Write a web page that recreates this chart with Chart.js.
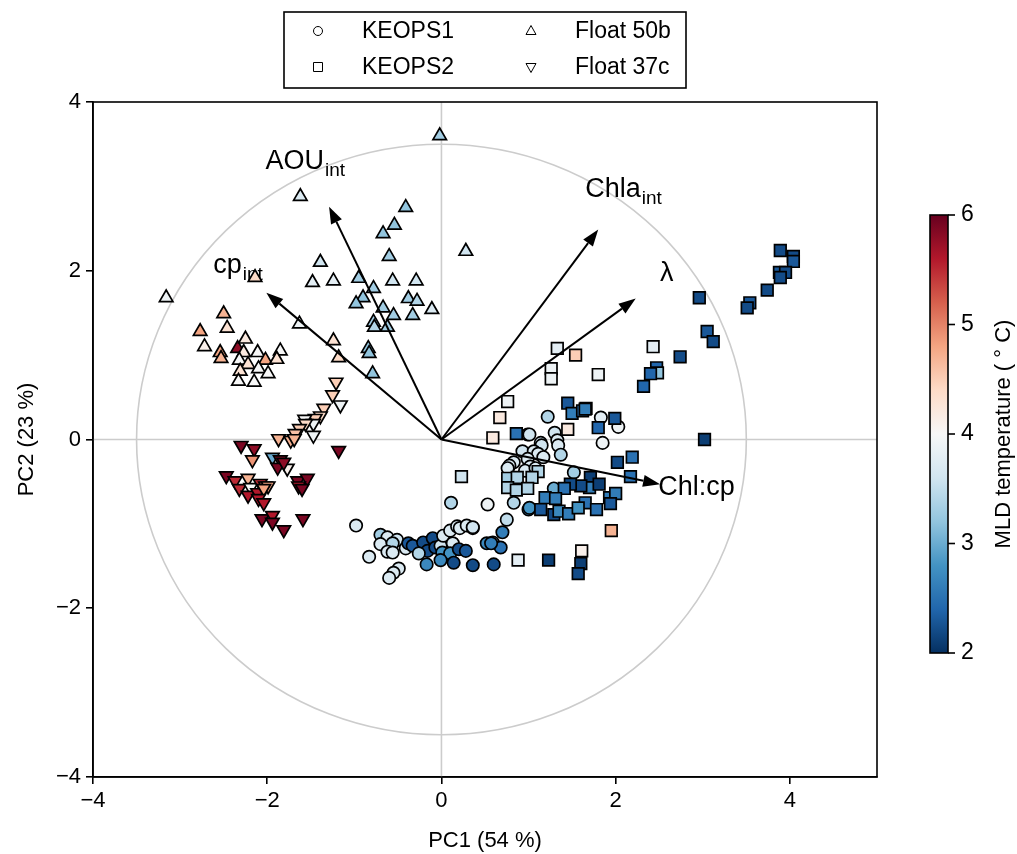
<!DOCTYPE html>
<html>
<head>
<meta charset="utf-8">
<script src="https://cdn.jsdelivr.net/npm/chart.js@4.4.0/dist/chart.umd.min.js"></script>
<style>
  html, body { margin: 0; padding: 0; background: #fff; }
  canvas { display: block; }
</style>
</head>
<body>
<canvas id="chart" width="1017" height="854"></canvas>
<script>
// PCA scores (PC1, PC2) and MLD temperature per station
const k1X = [-0.98,-0.70,-0.62,-0.51,-0.70,-0.56,-0.62,-0.56,-0.41,-0.83,-0.49,-0.55,-0.60,-0.38,-0.33,-0.21,-0.10,-0.16,-0.26,-0.17,-0.07,-0.01,0.02,0.10,0.18,0.21,0.29,0.36,0.13,0.01,0.10,-0.01,0.14,0.20,0.28,0.36,0.60,0.52,0.59,0.68,0.70,0.75,1.00,0.83,0.53,0.11,1.22,1.83,2.03,0.99,1.01,1.30,1.33,1.85,1.14,1.15,1.34,1.37,0.93,1.06,1.11,1.17,0.99,0.83,0.78,0.76,1.02,0.96,1.08,1.52,1.29,0.83,1.01,0.36,0.57];
const k1Y = [-1.02,-1.13,-1.16,-1.19,-1.24,-1.23,-1.33,-1.34,-1.29,-1.39,-1.53,-1.58,-1.64,-1.23,-1.26,-1.22,-1.17,-1.32,-1.35,-1.48,-1.28,-1.26,-1.14,-1.08,-1.03,-1.05,-1.02,-1.05,-1.23,-1.34,-1.35,-1.43,-1.46,-1.30,-1.32,-1.49,-1.48,-1.23,-1.22,-1.28,-1.10,-0.95,-0.83,-0.75,-0.77,-0.75,0.27,0.26,0.15,0.06,0.06,0.08,-0.01,-0.04,-0.04,-0.07,-0.07,-0.18,-0.14,-0.14,-0.17,-0.21,-0.23,-0.27,-0.31,-0.34,-0.32,-0.37,-0.34,-0.39,-0.58,-0.58,-0.81,-1.04,-1.23];
const k1T = [3.7,3.3,3.7,3.6,3.7,3.4,3.7,3.7,3.7,3.7,3.7,3.7,3.7,2.3,2.3,2.2,2.2,2.2,3.4,2.7,2.2,3.6,3.7,3.7,3.7,3.7,3.7,3.7,3.7,2.8,2.8,2.7,2.2,2.2,2.3,2.2,2.2,2.7,3.3,2.5,2.6,3.5,2.6,3.4,3.9,3.4,3.4,3.8,3.9,3.5,3.6,3.6,3.7,3.9,3.6,3.6,3.7,3.4,3.6,3.7,3.7,3.7,3.7,3.7,3.7,3.7,3.7,3.7,3.7,3.3,3.0,3.6,2.8,3.6,2.6];

const k2X = [2.32,0.76,0.67,0.59,1.45,1.50,1.62,1.66,1.99,1.80,1.45,0.86,2.02,2.19,2.17,1.11,0.76,0.87,1.04,0.76,0.86,0.99,1.71,1.70,1.60,1.48,1.81,1.41,1.19,1.31,1.65,1.93,2.00,1.94,1.14,1.29,1.35,1.46,1.57,1.78,1.95,1.61,0.88,1.23,1.60,1.57,3.89,4.04,4.04,3.88,3.95,3.89,3.74,3.54,3.51,2.96,3.05,3.12,2.43,2.74,2.47,2.48,2.40,1.80,1.65,3.02,1.33,1.54,1.26,1.26,0.23];
const k2Y = [0.63,0.45,0.26,0.02,0.43,0.31,0.34,0.37,0.25,0.14,0.12,0.07,-0.27,-0.21,-0.44,-0.38,-0.46,-0.45,-0.45,-0.57,-0.60,-0.58,-0.45,-0.57,-0.55,-0.53,-0.53,-0.58,-0.69,-0.70,-0.75,-0.69,-0.64,-0.76,-0.83,-0.89,-0.85,-0.88,-0.81,-0.83,-1.08,-1.32,-1.43,-1.43,-1.47,-1.59,2.24,2.17,2.11,1.98,1.98,1.92,1.77,1.62,1.56,1.68,1.28,1.16,1.10,0.98,0.85,0.79,0.78,0.77,0.36,0.00,1.08,1.00,0.84,0.72,-0.44];
const k2T = [2.4,3.9,4.2,4.2,2.3,2.6,2.5,2.5,2.3,2.4,4.2,2.5,2.2,2.5,2.5,3.4,3.3,3.4,3.4,3.4,3.4,3.4,2.1,2.6,2.2,2.2,2.1,2.5,2.6,2.6,2.5,2.6,2.6,2.3,2.3,2.2,2.7,2.6,2.8,2.5,4.7,4.1,3.8,2.1,2.1,2.2,2.2,2.2,2.3,2.3,2.2,2.2,2.2,2.3,2.2,2.2,2.3,2.2,3.8,2.2,2.4,3.2,2.4,3.9,2.6,2.1,3.8,4.5,3.9,3.9,3.6];

const f50X = [-1.62,-0.41,-0.54,-0.67,-0.60,-1.39,-1.48,-1.24,-0.95,-0.56,-0.29,-0.78,-0.90,-0.98,-0.67,-0.38,-0.28,-0.11,-0.33,-0.55,-0.78,-0.62,-0.77,-0.84,-0.83,-0.79,-1.63,-1.24,-1.18,-3.16,-2.14,-0.02,0.28,-2.50,-2.77,-2.46,-2.72,-2.54,-2.53,-2.34,-2.25,-2.27,-2.32,-2.11,-2.22,-2.02,-1.85,-1.89,-2.10,-1.99,-2.31,-2.33,-2.15];
const f50Y = [2.88,2.75,2.54,2.44,2.17,2.10,1.86,1.88,1.91,1.88,1.88,1.79,1.68,1.61,1.56,1.67,1.64,1.54,1.47,1.47,1.39,1.33,1.33,1.08,1.02,0.78,1.37,1.17,0.97,1.68,1.92,3.60,2.23,1.49,1.28,1.32,1.10,1.03,0.96,1.08,1.19,1.03,0.94,1.03,0.89,0.94,1.05,0.95,0.84,0.78,0.81,0.69,0.68];
const f50T = [3.7,3.2,3.2,3.2,3.3,3.6,3.8,3.8,3.3,3.6,3.6,3.3,3.2,3.2,3.3,3.3,3.4,3.7,3.3,3.3,3.3,3.3,3.4,3.2,3.2,3.2,3.9,4.3,4.4,3.9,4.4,3.3,3.6,4.7,4.8,4.3,4.1,4.8,4.7,5.8,4.2,4.2,4.0,4.0,4.3,4.8,4.0,4.3,4.0,4.0,4.3,4.0,4.0];

const f37X = [-1.21,-1.25,-1.16,-1.35,-1.39,-1.45,-1.57,-1.47,-1.56,-1.63,-1.68,-1.47,-1.87,-1.73,-1.69,-2.30,-2.15,-1.18,-2.17,-1.94,-1.85,-1.88,-1.77,-1.81,-2.47,-2.37,-2.22,-2.32,-2.19,-2.22,-2.08,-2.02,-1.99,-2.11,-2.04,-2.10,-2.04,-1.65,-1.54,-1.64,-1.60,-2.06,-1.94,-1.94,-1.81,-1.59];
const f37Y = [0.68,0.53,0.41,0.37,0.28,0.25,0.24,0.19,0.19,0.13,0.07,0.05,0.01,-0.01,0.01,-0.07,-0.11,-0.13,-0.24,-0.21,-0.24,-0.33,-0.34,-0.27,-0.43,-0.49,-0.46,-0.58,-0.57,-0.66,-0.52,-0.55,-0.55,-0.63,-0.58,-0.70,-0.75,-0.49,-0.46,-0.55,-0.58,-0.94,-0.90,-0.98,-1.07,-0.94];
const f37T = [4.5,4.5,3.9,4.5,4.4,4.5,4.0,3.9,4.4,4.5,4.6,3.9,4.7,4.7,4.7,5.9,5.8,5.9,4.9,3.0,5.8,5.9,4.1,5.8,5.9,5.5,4.7,5.5,4.0,5.6,5.5,4.8,4.8,5.6,4.8,5.6,5.6,5.9,5.9,5.6,5.9,5.9,5.6,5.9,5.9,5.9];

// loading vectors
const loadNames = ['AOU', 'cp', 'Chla', 'λ', 'Chl:cp'];
const loadSubs = ['int', 'int', 'int', '', ''];
const loadX = [-1.29, -2.01, 1.80, 2.23, 2.51];
const loadY = [2.76, 1.74, 2.49, 1.67, -0.53];
const labelX = [-2.02, -2.62, 1.65, 2.51, 2.49];
const labelY = [3.21, 1.97, 2.88, 1.88, -0.66];

const circleRadius = 3.5;
const xTicks = [-4, -2, 0, 2, 4];
const yTicks = [-4, -2, 0, 2, 4];
const cbarTicks = [2, 3, 4, 5, 6];
const tMin = 2, tMax = 6;

const FONT = "'Liberation Sans', Arial, sans-serif";

// RdBu_r
const rdbuR = ['#053061','#2166ac','#4393c3','#92c5de','#d1e5f0','#f7f7f7','#fddbc7','#f4a582','#d6604d','#b2182b','#67001f'];

function hexToRgb(h) {
  return [parseInt(h.slice(1,3),16), parseInt(h.slice(3,5),16), parseInt(h.slice(5,7),16)];
}

function tempColor(t) {
  let f = (t - tMin) / (tMax - tMin) * (rdbuR.length - 1);
  f = Math.max(0, Math.min(rdbuR.length - 1, f));
  const i = Math.min(Math.floor(f), rdbuR.length - 2);
  const w = f - i;
  const a = hexToRgb(rdbuR[i]), b = hexToRgb(rdbuR[i + 1]);
  const c = a.map((v, k) => Math.round(v + (b[k] - v) * w));
  return 'rgb(' + c.join(',') + ')';
}

function makeSet(label, xs, ys, ts, style, radius, rotation, order) {
  return {
    label: label,
    data: xs.map((v, i) => ({ x: v, y: ys[i] })),
    backgroundColor: ts.map(tempColor),
    borderColor: '#000',
    borderWidth: 1.7,
    pointStyle: style,
    pointRadius: radius,
    rotation: rotation,
    order: order
  };
}

const minus = v => String(v).replace('-', '\u2212');

const biplot = {
  id: 'biplot',
  beforeDatasetsDraw(chart) {
    const { ctx, chartArea: a, scales: { x, y } } = chart;
    const cx = x.getPixelForValue(0), cy = y.getPixelForValue(0);
    ctx.save();
    ctx.strokeStyle = '#cccccc';
    ctx.lineWidth = 1.6;
    ctx.beginPath();
    ctx.moveTo(cx, a.top); ctx.lineTo(cx, a.bottom);
    ctx.moveTo(a.left, cy); ctx.lineTo(a.right, cy);
    ctx.stroke();
    const rx = x.getPixelForValue(circleRadius) - cx;
    const ry = cy - y.getPixelForValue(circleRadius);
    ctx.beginPath();
    ctx.ellipse(cx, cy, rx, ry, 0, 0, Math.PI * 2);
    ctx.stroke();

    // variable labels
    ctx.fillStyle = '#000';
    ctx.textBaseline = 'alphabetic';
    ctx.textAlign = 'left';
    loadNames.forEach((name, i) => {
      const px = x.getPixelForValue(labelX[i]);
      const py = y.getPixelForValue(labelY[i]);
      ctx.font = '27px ' + FONT;
      ctx.fillText(name, px, py);
      if (loadSubs[i]) {
        const w = ctx.measureText(name).width;
        ctx.font = '19px ' + FONT;
        ctx.fillText(loadSubs[i], px + w + 1, py + 7);
      }
    });
    ctx.restore();
  },
  afterDatasetsDraw(chart) {
    const { ctx, scales: { x, y } } = chart;
    const ox = x.getPixelForValue(0), oy = y.getPixelForValue(0);
    ctx.save();
    ctx.strokeStyle = '#000';
    ctx.fillStyle = '#000';
    ctx.lineWidth = 2;
    loadX.forEach((lx, i) => {
      const tx = x.getPixelForValue(lx), ty = y.getPixelForValue(loadY[i]);
      const ang = Math.atan2(ty - oy, tx - ox);
      const head = 17, half = 6;
      const bx = tx - head * Math.cos(ang), by = ty - head * Math.sin(ang);
      ctx.beginPath();
      ctx.moveTo(ox, oy);
      ctx.lineTo(bx, by);
      ctx.stroke();
      ctx.beginPath();
      ctx.moveTo(tx, ty);
      ctx.lineTo(bx - half * Math.sin(ang), by + half * Math.cos(ang));
      ctx.lineTo(bx + half * Math.sin(ang), by - half * Math.cos(ang));
      ctx.closePath();
      ctx.fill();
    });
    ctx.restore();
  },
  afterDraw(chart) {
    const { ctx, chartArea: a } = chart;
    ctx.save();
    // plot frame
    ctx.strokeStyle = '#000';
    ctx.lineWidth = 1.6;
    ctx.strokeRect(a.left, a.top, a.right - a.left, a.bottom - a.top);

    // legend
    const lg = { left: 284, top: 12, w: 402, h: 76 };
    ctx.fillStyle = '#fff';
    ctx.fillRect(lg.left, lg.top, lg.w, lg.h);
    ctx.strokeRect(lg.left, lg.top, lg.w, lg.h);
    const entries = [
      { name: 'KEOPS1', shape: 'circle', mx: 318, tx: 362, my: 31 },
      { name: 'KEOPS2', shape: 'square', mx: 318, tx: 362, my: 67 },
      { name: 'Float 50b', shape: 'up', mx: 531, tx: 575, my: 31 },
      { name: 'Float 37c', shape: 'down', mx: 531, tx: 575, my: 67 }
    ];
    ctx.lineWidth = 1;
    entries.forEach(e => {
      ctx.beginPath();
      if (e.shape === 'circle') {
        ctx.arc(e.mx, e.my, 4.5, 0, Math.PI * 2);
      } else if (e.shape === 'square') {
        ctx.rect(e.mx - 4.5, e.my - 4.5, 9, 9);
      } else if (e.shape === 'up') {
        ctx.moveTo(e.mx, e.my - 5.5);
        ctx.lineTo(e.mx + 5, e.my + 3.5);
        ctx.lineTo(e.mx - 5, e.my + 3.5);
        ctx.closePath();
      } else {
        ctx.moveTo(e.mx, e.my + 5.5);
        ctx.lineTo(e.mx + 5, e.my - 3.5);
        ctx.lineTo(e.mx - 5, e.my - 3.5);
        ctx.closePath();
      }
      ctx.stroke();
      ctx.fillStyle = '#000';
      ctx.font = '23px ' + FONT;
      ctx.textAlign = 'left';
      ctx.textBaseline = 'middle';
      ctx.fillText(e.name, e.tx, e.my + 1);
    });

    // colorbar
    const cb = { left: 930, top: 215, w: 18, bottom: 653 };
    const grad = ctx.createLinearGradient(0, cb.bottom, 0, cb.top);
    rdbuR.forEach((c, i) => grad.addColorStop(i / (rdbuR.length - 1), c));
    ctx.fillStyle = grad;
    ctx.fillRect(cb.left, cb.top, cb.w, cb.bottom - cb.top);
    ctx.lineWidth = 1.6;
    ctx.strokeStyle = '#000';
    ctx.strokeRect(cb.left, cb.top, cb.w, cb.bottom - cb.top);
    ctx.fillStyle = '#000';
    ctx.font = '23px ' + FONT;
    ctx.textAlign = 'left';
    ctx.textBaseline = 'middle';
    cbarTicks.forEach(v => {
      const py = cb.bottom - (v - tMin) / (tMax - tMin) * (cb.bottom - cb.top);
      ctx.beginPath();
      ctx.moveTo(cb.left + cb.w, py);
      ctx.lineTo(cb.left + cb.w + 7, py);
      ctx.stroke();
      ctx.fillText(String(v), cb.left + cb.w + 13, py);
    });
    ctx.translate(1004, (cb.top + cb.bottom) / 2);
    ctx.rotate(-Math.PI / 2);
    ctx.textAlign = 'center';
    ctx.font = '22px ' + FONT;
    ctx.fillText('MLD temperature ( \u00b0 C)', 0, 0);
    ctx.restore();
  }
};

new Chart(document.getElementById('chart'), {
  type: 'scatter',
  data: {
    datasets: [
      makeSet('KEOPS1', k1X, k1Y, k1T, 'circle', 6.2, 0, 4),
      makeSet('KEOPS2', k2X, k2Y, k2T, 'rect', 8.2, 0, 3),
      makeSet('Float 50b', f50X, f50Y, f50T, 'triangle', 7.8, 0, 2),
      makeSet('Float 37c', f37X, f37Y, f37T, 'triangle', 7.8, 180, 1)
    ]
  },
  options: {
    responsive: false,
    animation: false,
    devicePixelRatio: 1,
    events: [],
    layout: { padding: { left: 0, top: 102, right: 140, bottom: 0 } },
    plugins: { legend: { display: false }, tooltip: { enabled: false } },
    scales: {
      x: {
        type: 'linear',
        min: -4,
        max: 5,
        afterBuildTicks: s => { s.ticks = xTicks.map(v => ({ value: v })); },
        afterFit: s => { s.height = 77; },
        grid: { drawOnChartArea: false, color: '#000', tickLength: 7, lineWidth: 1.6 },
        border: { color: '#000', width: 1.6 },
        ticks: { color: '#000', font: { family: FONT, size: 22 }, padding: 4, callback: minus, maxRotation: 0 },
        title: { display: true, text: 'PC1 (54 %)', color: '#000', font: { family: FONT, size: 22 }, padding: { bottom: 0 } }
      },
      y: {
        type: 'linear',
        min: -4,
        max: 4,
        afterBuildTicks: s => { s.ticks = yTicks.map(v => ({ value: v })); },
        afterFit: s => { s.width = 93; },
        grid: { drawOnChartArea: false, color: '#000', tickLength: 7, lineWidth: 1.6 },
        border: { color: '#000', width: 1.6 },
        ticks: { color: '#000', font: { family: FONT, size: 22 }, padding: 5, callback: minus },
        title: { display: true, text: 'PC2 (23 %)', color: '#000', font: { family: FONT, size: 22 }, padding: { top: 14 } }
      }
    }
  },
  plugins: [biplot]
});
</script>
</body>
</html>
